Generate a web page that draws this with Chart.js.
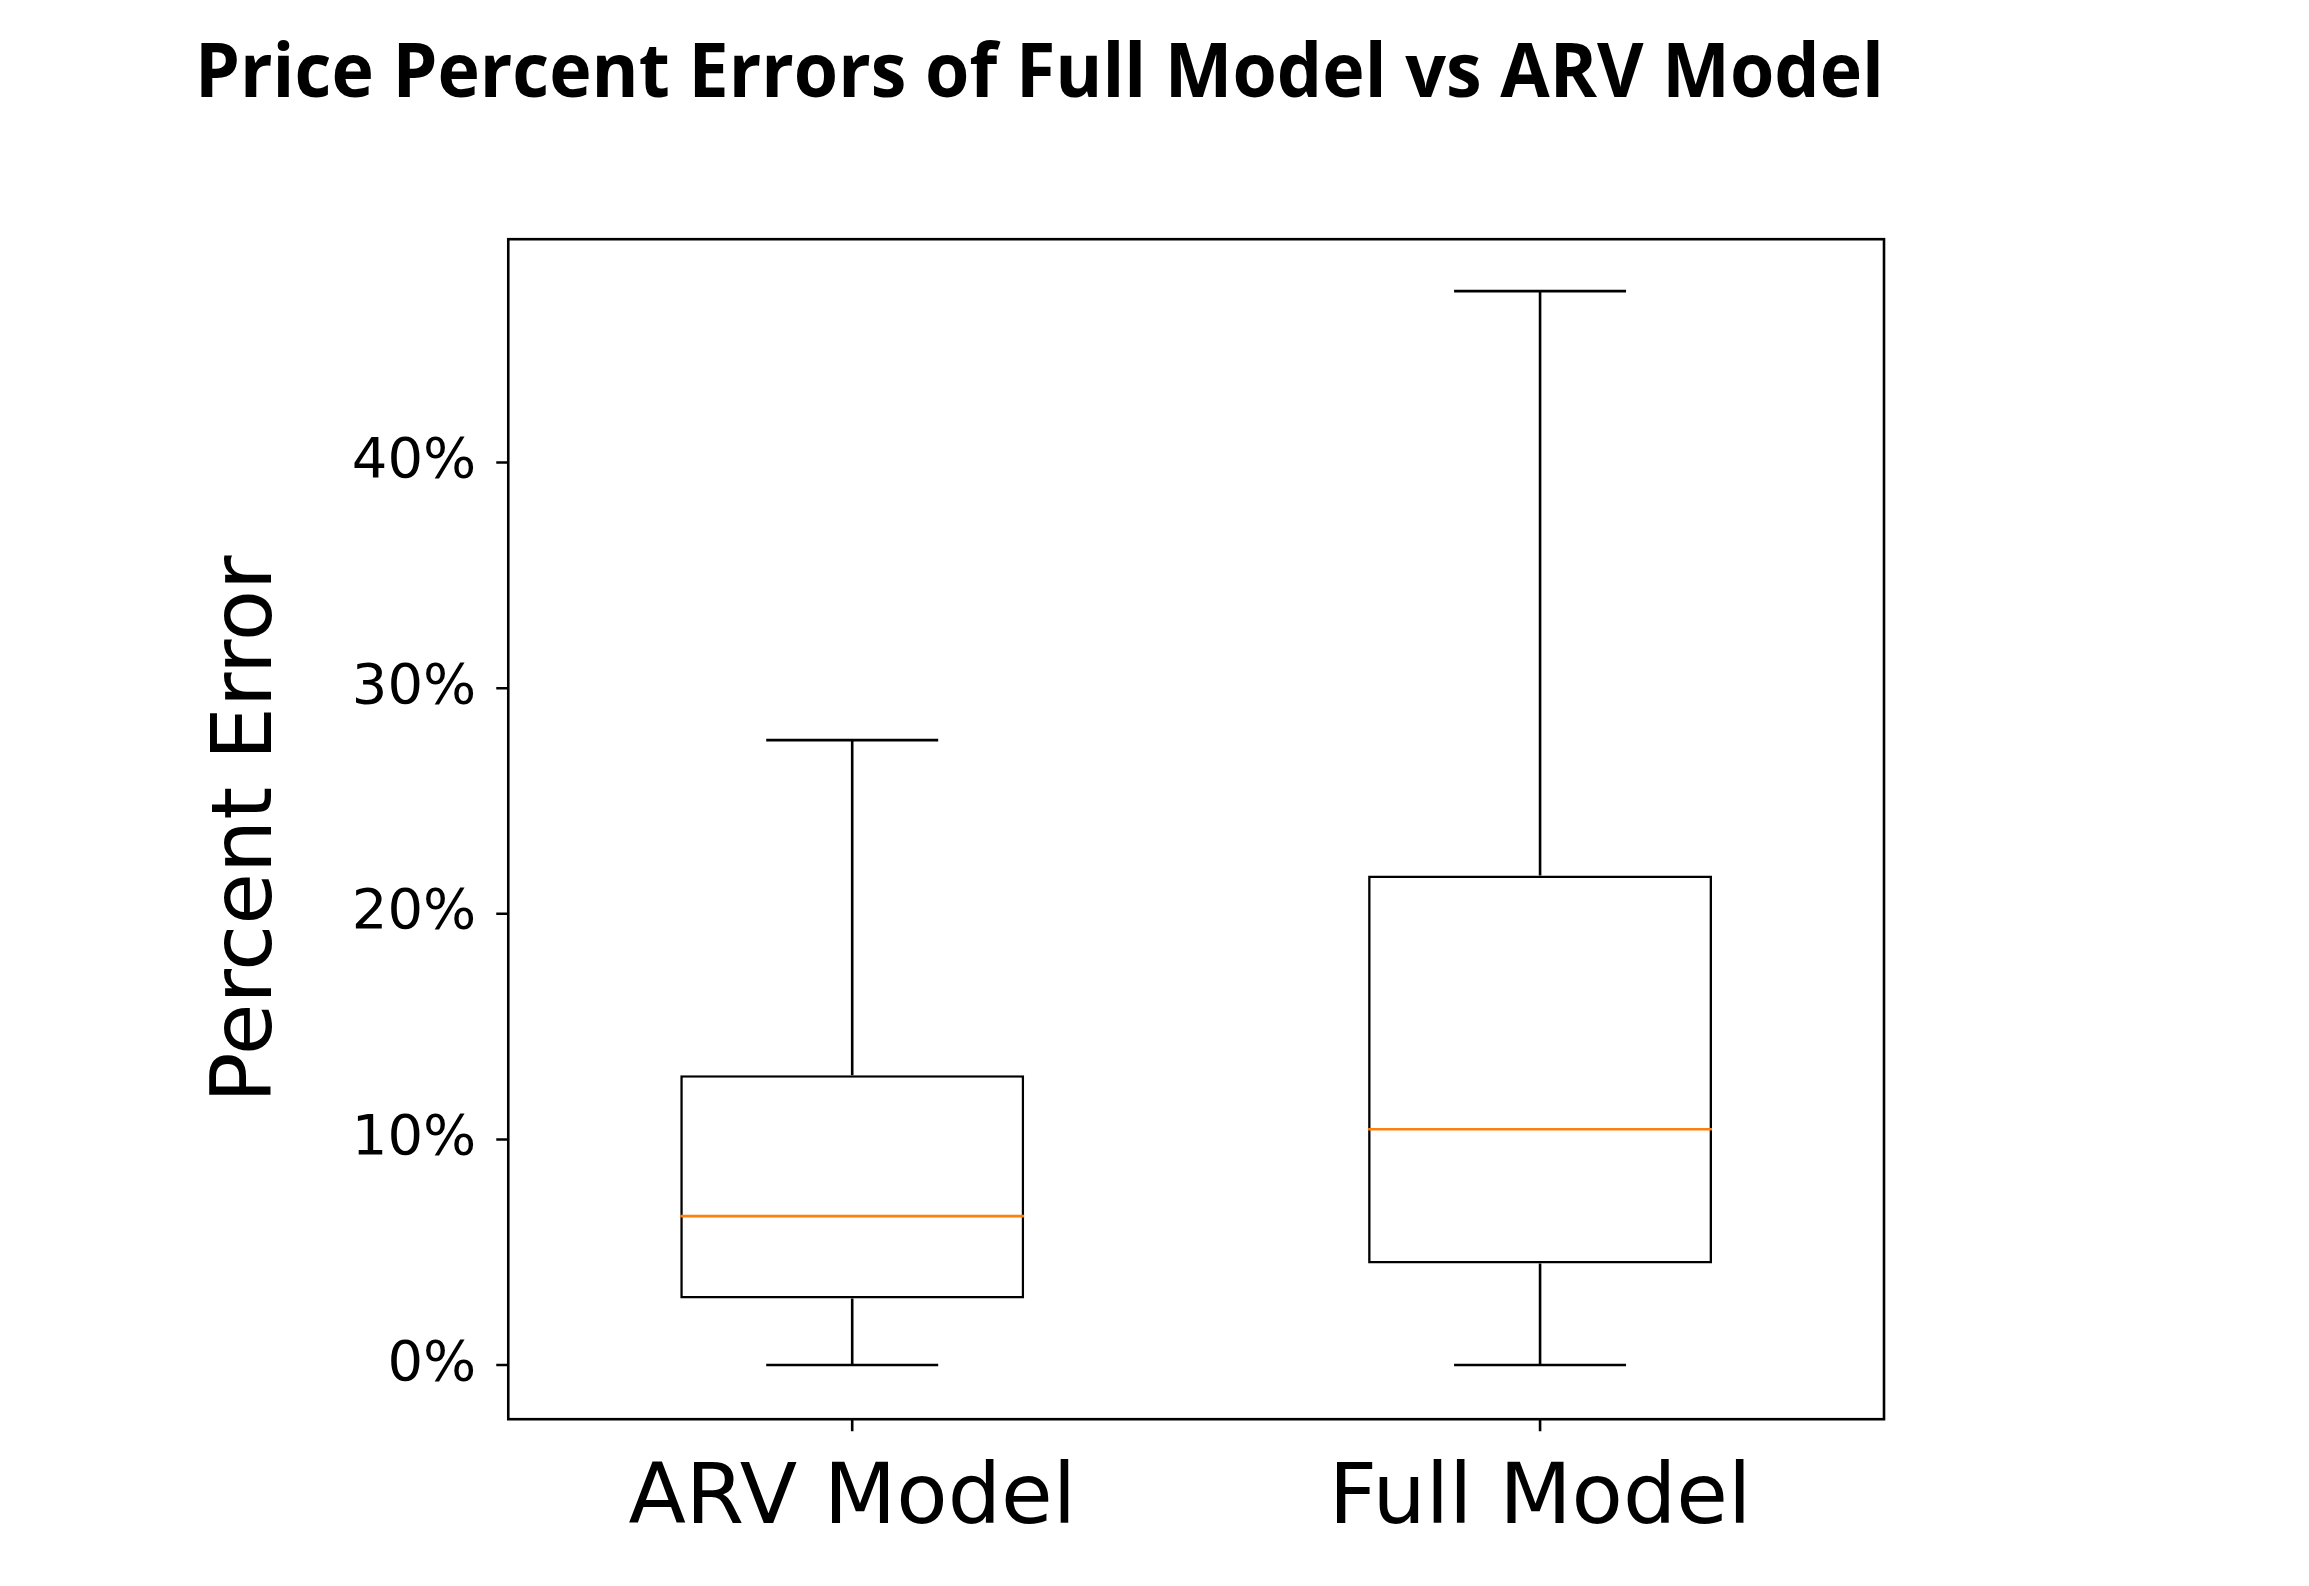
<!DOCTYPE html>
<html><head><meta charset="utf-8">
<script src="https://cdn.jsdelivr.net/npm/chart.js@4"></script>
<style>body{margin:0;background:#fff}canvas{display:block}</style>
</head><body>
<canvas id="c" width="2309" height="1586"></canvas>
<script>
const categories=["ARV Model","Full Model"];
const mins=[0,0];
const q1s=[2.95,4.5];
const medians=[6.6,10.45];
const q3s=[12.85,21.7];
const maxs=[27.7,47.6];
const yTicks=[0,10,20,30,40];

const boxPlugin={
id:"box",
afterDatasetsDraw(chart){
const ctx=chart.ctx,x=chart.scales.x,y=chart.scales.y,a=chart.chartArea;
const meta=chart.getDatasetMeta(0);
ctx.save();
ctx.lineWidth=2.6;
meta.data.forEach((bar,i)=>{
const cx=bar.x,hw=bar.width/2,cw=bar.width/4;
ctx.strokeStyle="#000";
ctx.beginPath();
ctx.moveTo(cx,y.getPixelForValue(q1s[i]));ctx.lineTo(cx,y.getPixelForValue(mins[i]));
ctx.moveTo(cx,y.getPixelForValue(q3s[i]));ctx.lineTo(cx,y.getPixelForValue(maxs[i]));
ctx.moveTo(cx-cw,y.getPixelForValue(mins[i]));ctx.lineTo(cx+cw,y.getPixelForValue(mins[i]));
ctx.moveTo(cx-cw,y.getPixelForValue(maxs[i]));ctx.lineTo(cx+cw,y.getPixelForValue(maxs[i]));
ctx.moveTo(cx,a.bottom);ctx.lineTo(cx,a.bottom+12);
ctx.stroke();
ctx.strokeStyle="#ff7f0e";
ctx.beginPath();
ctx.moveTo(cx-hw,y.getPixelForValue(medians[i]));ctx.lineTo(cx+hw,y.getPixelForValue(medians[i]));
ctx.stroke();
});
ctx.strokeStyle="#000";
ctx.beginPath();
yTicks.forEach(v=>{const py=y.getPixelForValue(v);ctx.moveTo(a.left,py);ctx.lineTo(a.left-12,py);});
ctx.stroke();
ctx.strokeRect(a.left,a.top,a.right-a.left,a.bottom-a.top);
ctx.restore();
}
};

new Chart(document.getElementById("c"),{
type:"bar",
data:{labels:categories,datasets:[{
data:q1s.map((v,i)=>[v,q3s[i]]),
backgroundColor:"#fff",borderColor:"#000",borderWidth:2.6,borderSkipped:false,
barPercentage:0.5,categoryPercentage:1
}]},
options:{
responsive:false,animation:false,
layout:{padding:{left:195,right:425,top:30,bottom:10}},
plugins:{legend:{display:false},tooltip:{enabled:false},
title:{display:true,text:"Price Percent Errors of Full Model vs ARV Model",
font:{family:"'Open Sans', 'DejaVu Sans'",size:76,weight:"bold"},color:"#000",padding:{top:0,bottom:118}}},
scales:{
x:{grid:{display:false},border:{display:false},
ticks:{color:"#000",font:{family:"DejaVu Sans",size:84},padding:24}},
y:{min:-2.4,max:49.9,grid:{display:false},border:{display:false},
afterBuildTicks(s){s.ticks=yTicks.map(v=>({value:v}));},
ticks:{color:"#000",font:{family:"DejaVu Sans",size:56},padding:24,callback:v=>v+"%"},
title:{display:true,text:"Percent Error",color:"#000",font:{family:"DejaVu Sans",size:84},padding:{bottom:28}}}
}
},
plugins:[boxPlugin]
});
</script>
</body></html>
